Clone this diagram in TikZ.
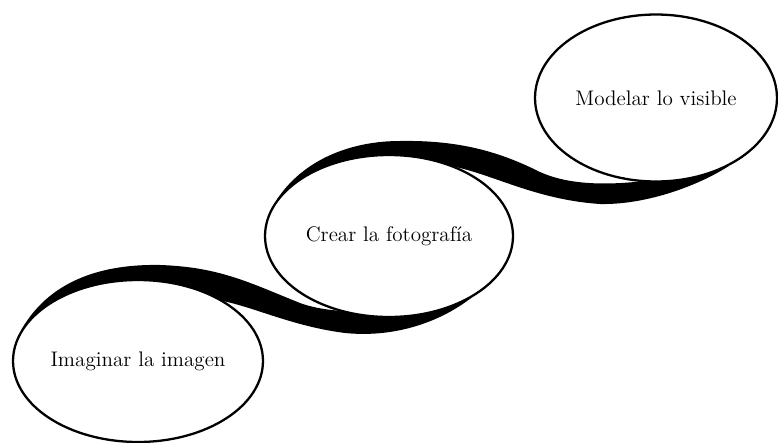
\documentclass[tikz,border=0pt]{standalone}
\usetikzlibrary{shapes.geometric,backgrounds}
\begin{document}
\begin{tikzpicture}[x={(0.02cm,0cm)}, y={(0cm,-0.02cm)},
    line join=round, line cap=round]

    % 枠（元の画像と同じ比率）
    \useasboundingbox (0,0) rectangle (778,443);

    % 楕円のスタイル
    \tikzset{etapa/.style={ellipse, draw, line width=1.3pt, fill=white,
        inner sep=0pt, font=\fontsize{12}{14}\selectfont}}

    % 中心の座標定義
    \coordinate (C1) at (138,361);
    \coordinate (C2) at (389,236);
    \coordinate (C3) at (656,98);

    % 楕円
    \node[etapa, minimum width=5cm, minimum height=3.24cm] (imaginar) at (C1) {Imaginar la imagen};
    \node[etapa, minimum width=4.96cm, minimum height=3.24cm] (crear) at (C2) {Crear la fotografía};
    \node[etapa, minimum width=4.84cm, minimum height=3.34cm] (modelar) at (C3) {Modelar lo visible};

    % 帯（楕円の後ろ）
    \begin{scope}[on background layer]
      \fill (imaginar.165) .. controls (52,276) and (110,264) .. (160,265)
            .. controls (220,267) and (250,283) .. (300,303)
            .. controls (340,318) and (420,312) .. (crear.-37)
            .. controls (440,322) and (395,338) .. (345,333)
            .. controls (290,326) and (250,305) .. (217,300)
            .. controls (170,292) and (80,300) .. (imaginar.165) -- cycle;
      \fill (crear.162) .. controls (303,160) and (350,141) .. (400,141)
            .. controls (460,140) and (500,152) .. (540,172)
            .. controls (580,190) and (640,186) .. (modelar.-43)
            .. controls (703,183) and (650,205) .. (600,204)
            .. controls (540,200) and (500,178) .. (460,168)
            .. controls (420,158) and (330,165) .. (crear.162) -- cycle;
    \end{scope}

\end{tikzpicture}
\end{document}
